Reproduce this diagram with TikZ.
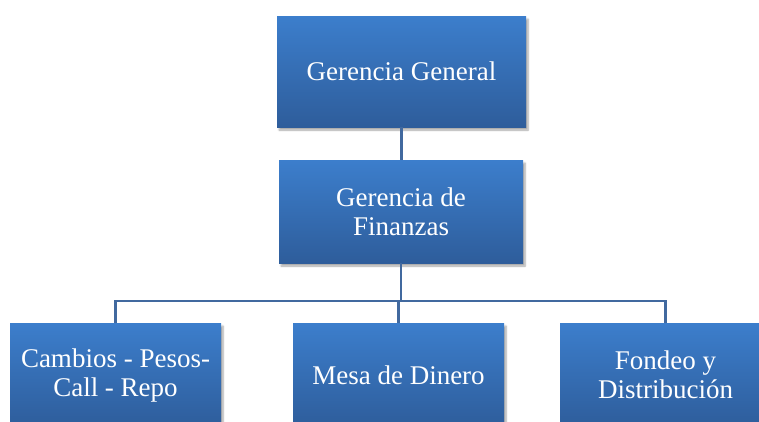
\documentclass[tikz,border=0pt]{standalone}
\usepackage{fontspec}
\setmainfont{Liberation Serif}
\usepackage{xcolor}
\usetikzlibrary{shadows.blur,positioning}
\definecolor{boxtop}{HTML}{3C7ECC}
\definecolor{boxbot}{HTML}{2E5D9B}
\definecolor{linkblue}{HTML}{41699F}

\begin{document}
\begin{tikzpicture}[x=1pt,y=-1pt,
                    unit/.style={top color=boxtop, bottom color=boxbot, text=white,
                                 align=center, inner sep=0pt,
                                 font=\fontsize{27}{29}\selectfont,
                                 blur shadow={shadow xshift=2pt, shadow yshift=-3pt,
                                              shadow opacity=35, shadow blur steps=6}},
                    link/.style={linkblue, line width=2.2pt},
                   ]

\useasboundingbox (0,0) rectangle (759,421);

% boxes
\node[unit, minimum width=249pt, minimum height=111pt] (gral) at (401.5,71.5) {Gerencia General};
\node[unit, minimum width=244pt, minimum height=103pt] (fin) at (401,211.5) {Gerencia de\\Finanzas};

\node[unit, minimum width=211pt, minimum height=104pt] (camb) at (115.5,375) {Cambios - Pesos-\\Call - Repo};
\node[unit, minimum width=211pt, minimum height=104pt] (mesa) at (398.5,375) {Mesa de Dinero};
\node[unit, minimum width=211pt, minimum height=104pt] (fond) at (665.5,375) {Fondeo y\\Distribución};

% links
\draw[link] (gral.south) -- (gral.south |- fin.north);
\draw[link] (fin.south) -- ++(0,38) coordinate (bus);
\draw[link] (camb.north) |- (bus) -| (fond.north);
\draw[link] (mesa.north) -- (mesa.north |- bus);

\end{tikzpicture}
\end{document}
